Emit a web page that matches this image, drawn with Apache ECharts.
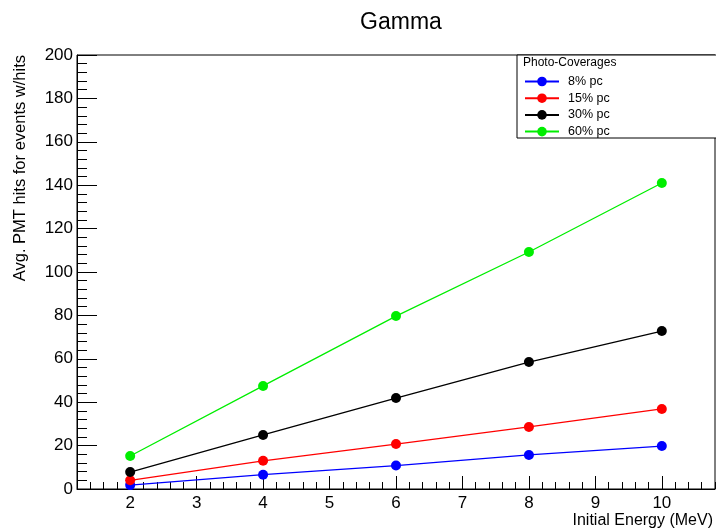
<!DOCTYPE html>
<html>
<head>
<meta charset="utf-8">
<script src="https://cdn.jsdelivr.net/npm/echarts@6/dist/echarts.min.js"></script>
<style>html,body{margin:0;padding:0;background:#fff}#c{width:716px;height:530px}</style>
</head>
<body>
<div id="c"></div>
<script>
var energies = [2, 4, 6, 8, 10];
var pc8 = [1.8, 6.6, 10.8, 15.7, 19.8];
var pc15 = [4.0, 13.0, 20.7, 28.6, 36.9];
var pc30 = [7.8, 24.9, 41.9, 58.5, 72.8];
var pc60 = [15.2, 47.5, 79.7, 109.2, 141.0];
var seriesNames = ['8% pc', '15% pc', '30% pc', '60% pc'];
var seriesColors = ['#0000ff', '#ff0000', '#000000', '#00ee00'];
var xMajorTicks = [2, 3, 4, 5, 6, 7, 8, 9, 10];
var xMinorTicks = [];
for (var i = 6; i <= 54; i++) { if (i % 5 !== 0) xMinorTicks.push(i / 5); }

var FONT = 'Liberation Sans, Arial, sans-serif';
var allData = [pc8, pc15, pc30, pc60];
var series = allData.map(function (vals, k) {
  return {
    name: seriesNames[k],
    type: 'line',
    xAxisIndex: 0,
    data: energies.map(function (e, j) { return [e, vals[j]]; }),
    symbol: 'circle',
    symbolSize: 10,
    lineStyle: { color: seriesColors[k], width: 1.3 },
    itemStyle: { color: seriesColors[k] },
    animation: false
  };
});

var chart = echarts.init(document.getElementById('c'), null, { renderer: 'canvas' });
chart.setOption({
  backgroundColor: '#fff',
  animation: false,
  title: {
    text: 'Gamma', left: 396, top: 6, textAlign: 'center',
    textStyle: { fontFamily: FONT, fontSize: 23, fontWeight: 'normal', color: '#000' }
  },
  grid: { left: 77, right: 1, top: 55, bottom: 41, show: true, borderColor: '#000', borderWidth: 1, backgroundColor: 'transparent' },
  legend: {
    orient: 'vertical', left: 519, top: 70, z: 20,
    itemWidth: 34, itemHeight: 12, itemGap: 3.7,
    data: seriesNames,
    textStyle: { fontFamily: FONT, fontSize: 12.5, color: '#000', padding: [0, 0, 0, 4], lineHeight: 12 }
  },
  graphic: [
    { type: 'rect', shape: { x: 517, y: 55, width: 205, height: 83 }, style: { fill: '#fff', stroke: '#000', lineWidth: 1 }, z: 5 },
    { type: 'text', x: 523, y: 63, style: { text: 'Photo-Coverages', font: '12px ' + FONT, fill: '#000', verticalAlign: 'middle' }, z: 6 }
  ],
  xAxis: [
    {
      type: 'value', min: 1.2, max: 10.8, gridIndex: 0,
      name: 'Initial Energy (MeV)', nameLocation: 'end', nameGap: -2,
      nameTextStyle: { fontFamily: FONT, fontSize: 16, color: '#000', align: 'right', verticalAlign: 'top', padding: [24, 0, 0, 0] },
      axisLine: { show: true, lineStyle: { color: '#000', width: 1 } },
      axisTick: { show: true, inside: true, length: 13, customValues: xMajorTicks, lineStyle: { color: '#000' } },
      axisLabel: { customValues: xMajorTicks, fontFamily: FONT, fontSize: 17, color: '#000', margin: 6 },
      splitLine: { show: false }
    },
    {
      type: 'value', min: 1.2, max: 10.8, gridIndex: 0, position: 'bottom',
      axisLine: { show: false },
      axisTick: { show: true, inside: true, length: 7, customValues: xMinorTicks, lineStyle: { color: '#000' } },
      axisLabel: { show: false },
      splitLine: { show: false }
    }
  ],
  yAxis: {
    type: 'value', min: 0, max: 200, interval: 20,
    name: 'Avg. PMT hits for events w/hits', nameLocation: 'end', nameRotate: 90, nameGap: 0,
    nameTextStyle: { fontFamily: FONT, fontSize: 16.5, color: '#000', align: 'right', verticalAlign: 'bottom', padding: [0, 0, 48, 0] },
    axisLine: { show: true, lineStyle: { color: '#000', width: 1 } },
    axisTick: { show: true, inside: true, length: 20, lineStyle: { color: '#000' } },
    minorTick: { show: true, splitNumber: 5, length: 10, lineStyle: { color: '#000' } },
    axisLabel: { fontFamily: FONT, fontSize: 17, color: '#000', margin: 4 },
    splitLine: { show: false }
  },
  series: series
});
</script>
</body>
</html>
